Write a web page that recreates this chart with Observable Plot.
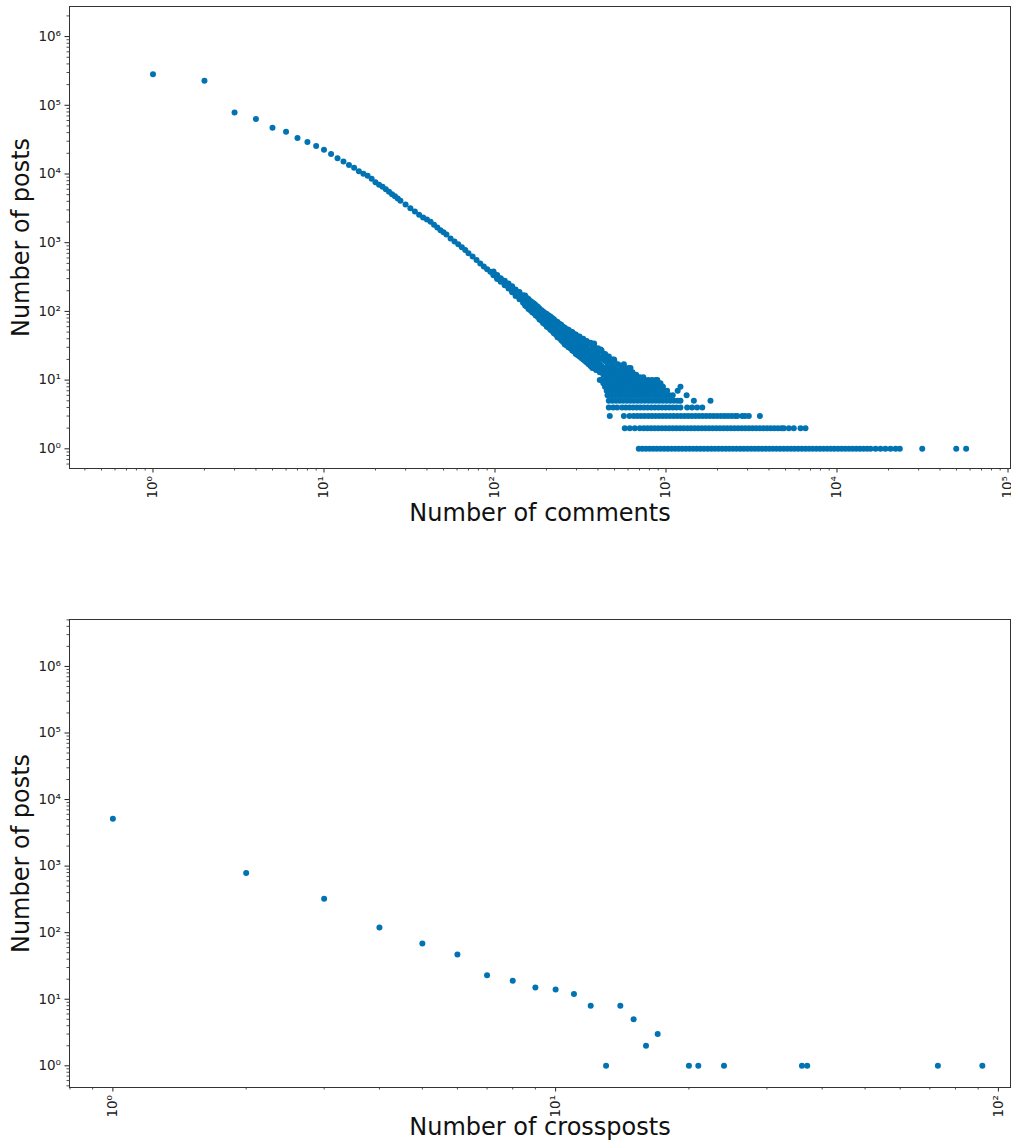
<!DOCTYPE html>
<html>
<head>
<meta charset="utf-8">
<script src="https://cdn.jsdelivr.net/npm/d3@7"></script>
<script src="https://cdn.jsdelivr.net/npm/@observablehq/plot@0.6"></script>
<style>
html, body { margin: 0; padding: 0; background: #fff; }
#chart svg { display: block; }
</style>
</head>
<body>
<div id="chart"></div>
<script>
// ---------- DATA ----------
// Panel 1: number of comments (x) vs number of posts (y)
const commentCurveX = [1,2,3,4,5,6,7,8,9,10,11,12,13,14,15,16,17,18,19,20,21,22,23,24,25,26,27,28,30,32,34,36,38,40,42,44,46,48,50,52,55,58,61,64,67,70,74,78,82,86,90,94];
const commentCurveY = [284000,227000,78800,63000,47000,41100,33300,29100,25500,22500,19500,17000,15200,13500,12300,11000,10100,9400,8500,7600,7000,6500,6000,5500,5050,4750,4400,4070,3600,3160,2850,2550,2330,2180,2010,1830,1670,1520,1420,1320,1150,1040,950,860,780,700,630,560,499,450,410,377];

// scattered cloud: x values and the post counts seen at each
const commentCloudX = [98,103,108,114,120,126,132,139,146,153,161,169,178,187,196,206,216,227,238,250,263,276,290,305,320,336,353,371,390,410,430,452,475,499,524,550,578,607,637,669,702,737];
const commentCloudY = [
  [380,365,355,345,335],[340,325,316,305,295],[305,298,290,280,270],[280,268,258,249,240],
  [255,244,233,224,215],[232,220,209,199,190],[208,196,187,178,168],[192,180,168,159,150],
  [172,162,152,143,134],[158,146,136,127,118],[142,131,122,113,104],[130,119,109,101,94],
  [117,107,98,90,83],[104,95,87,80,73],[95,86,79,72,65],[87,78,71,64,58],
  [80,71,64,58,52],[72,64,57,51,46],[66,58,51,46,41],[60,53,46,41,36],
  [55,48,41,37,32],[51,44,38,34,29],[47,40,34,30,26],[43,37,31,27,23],
  [40,34,28,24,21],[37,31,25,22,19],[34,28,23,20,17],[32,26,21,18,15],
  [28,24,19,16,14],[26,21,17,15,13],[24,20,15,14,12],[22,18,14,12,11],
  [20,17,13,15,11],[19,15,12,13,11],[17,14,11,12,13],[16,14,11,12,13],
  [15,12,13,11],[15,11,12,13],[12,13,11],[11,12],[11],[11]
];
// more cloud points between the x values above
const commentCloud2X = [150,157,165,173,182,191,201,211,221,232,244,256,269,283,297,312,328,344,362,380,400,420,441,463,487];
const commentCloud2Y = [
  [170,155,144,132,122],[152,140,129,118,108],[136,124,115,106,97],[124,111,103,95,87],
  [110,99,92,84,76],[100,90,83,75,68],[92,82,75,68,60],[84,74,67,60,54],
  [77,67,60,54,48],[70,60,54,48,42],[64,55,48,43,38],[58,49,43,38,33],
  [54,45,39,35,30],[50,42,36,31,27],[46,38,32,28,24],[43,35,29,25,22],
  [40,32,26,23,20],[37,29,24,21,18],[35,27,22,19,16],[31,25,20,17,15],
  [29,22,18,16,14],[27,21,16,14,13],[24,19,15,13,12],[22,17,13,12,11],[20,16,14,12,11]
];
const commentOutliers = [[380,34],[415,28],[497,20],[567,17],[620,15]];

// rows of comment counts that have exactly n posts
const rowPosts10 = [410,420,440,462,485,510,535,562,590,620,650,683,717,753,790,830,871,890];
const rowPosts9  = [430,452,475,499,524,550,578,607,637,669,702,737,774,813,854,897,929];
const rowPosts8  = [440,462,485,510,535,562,590,620,650,683,717,753,790,830,871,915,960,1215];
const rowPosts7  = [450,472,496,521,547,574,603,633,665,698,733,770,808,848,890,935,982,1015,1170];
const rowPosts6  = [455,478,502,527,553,581,610,640,672,706,741,778,817,858,901,946,993,1043,1095,1320];
const rowPosts5  = [463,486,510,536,563,591,620,651,684,718,754,792,831,873,916,962,1010,1061,1114,1170,1215,1455,1820];
const rowPosts4  = [463,491,518,554,582,611,642,674,707,743,780,819,860,903,948,995,1045,1097,1152,1215,1330,1420,1520,1630];
const rowPosts3  = [469,567,612,648,680,714,750,788,827,868,912,957,1005,1055,1108,1164,1222,1283,1347,1414,1485,1559,1637,1719,1805,1895,1990,2090,2194,2304,2419,2540,2610,2790,2900,3050,3540];
const rowPosts2  = [574,614,657,703,742,779,818,859,902,947,994,1044,1096,1151,1209,1269,1333,1399,1469,1543,1620,1701,1786,1875,1969,2067,2171,2279,2393,2513,2639,2771,2909,3055,3207,3368,3536,3713,3898,4093,4298,4513,4738,4890,5230,5590,6120,6540];
const rowPosts1  = [693,728,764,802,842,884,929,975,1024,1075,1129,1185,1245,1307,1372,1441,1513,1589,1668,1751,1839,1931,2028,2129,2235,2347,2465,2588,2717,2853,2996,3146,3303,3468,3641,3823,4015,4215,4426,4647,4880,5124,5380,5649,5931,6228,6539,6866,7210,7570,7949,8346,8763,9202,9662,10145,10652,11185,11744,12331,12948,13595,14275,14989,15700,16800,17960,19200,20550,22000,23300,31500,49800,56900];

// Panel 2: number of crossposts (x) vs number of posts (y)
const crosspostX = [1,2,3,4,5,6,7,8,9,10,11,12,13,14,15,16,17,20,21,24,36,37,73,92];
const crosspostY = [5130,785,322,120,69,47,23,19,15,14,12,8,1,8,5,2,3,1,1,1,1,1,1,1];

// axis ticks and labels
const majorTicksY = [1,10,100,1000,10000,100000,1000000];
const majorTicksXComments = [1,10,100,1000,10000,100000];
const majorTicksXCrossposts = [1,10,100];
const labelComments = "Number of comments";
const labelCrossposts = "Number of crossposts";
const labelPosts = "Number of posts";

// ---------- BUILD ----------
const dotColor = "#0173b2";
const commentsData = [];
commentCurveX.forEach((x, i) => commentsData.push({x, y: commentCurveY[i]}));
commentCloudX.forEach((x, i) => commentCloudY[i].forEach(y => commentsData.push({x, y})));
commentCloud2X.forEach((x, i) => commentCloud2Y[i].forEach(y => commentsData.push({x, y})));
commentOutliers.forEach(([x, y]) => commentsData.push({x, y}));
[[rowPosts1,1],[rowPosts2,2],[rowPosts3,3],[rowPosts4,4],[rowPosts5,5],[rowPosts6,6],[rowPosts7,7],[rowPosts8,8],[rowPosts9,9],[rowPosts10,10]]
  .forEach(([xs, y]) => xs.forEach(x => commentsData.push({x, y})));
const crosspostData = crosspostX.map((x, i) => ({x, y: crosspostY[i]}));

const sup = {"-":"⁻","0":"⁰","1":"¹","2":"²","3":"³","4":"⁴","5":"⁵","6":"⁶","7":"⁷","8":"⁸","9":"⁹"};
const fmt = d => "10" + String(Math.round(Math.log10(d))).split("").map(c => sup[c]).join("");
function minorTicks(lo, hi) {
  const out = [];
  for (let k = -2; k <= 7; k++) for (let m = 2; m <= 9; m++) {
    const v = m * Math.pow(10, k);
    if (v > lo && v < hi) out.push(v);
  }
  return out;
}

function panel({data, xDomain, yDomain, xTicks, xLabel, height, marginTop, marginBottom, labelDy}) {
  return Plot.plot({
    width: 1011, height, marginLeft: 69, marginRight: 1, marginTop, marginBottom,
    style: {fontFamily: "'DejaVu Sans', sans-serif", fontSize: "13.5px", color: "#222", background: "white"},
    x: {type: "log", domain: xDomain},
    y: {type: "log", domain: yDomain},
    marks: [
      Plot.dot(data, {x: "x", y: "y", r: 3, fill: dotColor, stroke: "none"}),
      Plot.axisX(minorTicks(...xDomain), {tickSize: 2.5, tickFormat: () => "", label: null, strokeWidth: 0.8}),
      Plot.axisX(xTicks, {tickSize: 4.5, tickPadding: 3, tickRotate: -90, tickFormat: fmt, label: null, fontSize: 13.5}),
      Plot.axisY(minorTicks(...yDomain), {tickSize: 2.5, tickFormat: () => "", label: null, strokeWidth: 0.8}),
      Plot.axisY(majorTicksY, {tickSize: 4.5, tickPadding: 4, tickFormat: fmt, label: null, fontSize: 13.5}),
      Plot.frame({stroke: "#333", strokeWidth: 1}),
      Plot.text([xLabel], {text: d => d, frameAnchor: "bottom", textAnchor: "middle", dy: labelDy, lineAnchor: "bottom", fontSize: 24, fill: "#111"}),
      Plot.text([labelPosts], {text: d => d, frameAnchor: "left", textAnchor: "middle", dx: -40.5, rotate: -90, lineAnchor: "bottom", fontSize: 24, fill: "#111"})
    ]
  });
}

const chart = document.getElementById("chart");
chart.append(panel({
  data: commentsData,
  xDomain: [0.325, 103400], yDomain: [0.517, 2740000],
  xTicks: majorTicksXComments, xLabel: labelComments,
  height: 560, marginTop: 6, marginBottom: 92, labelDy: 52
}));
chart.append(panel({
  data: crosspostData,
  xDomain: [0.798, 106.5], yDomain: [0.472, 5070000],
  xTicks: majorTicksXCrossposts, xLabel: labelCrossposts,
  height: 584, marginTop: 59, marginBottom: 57, labelDy: 47
}));
</script>
</body>
</html>
